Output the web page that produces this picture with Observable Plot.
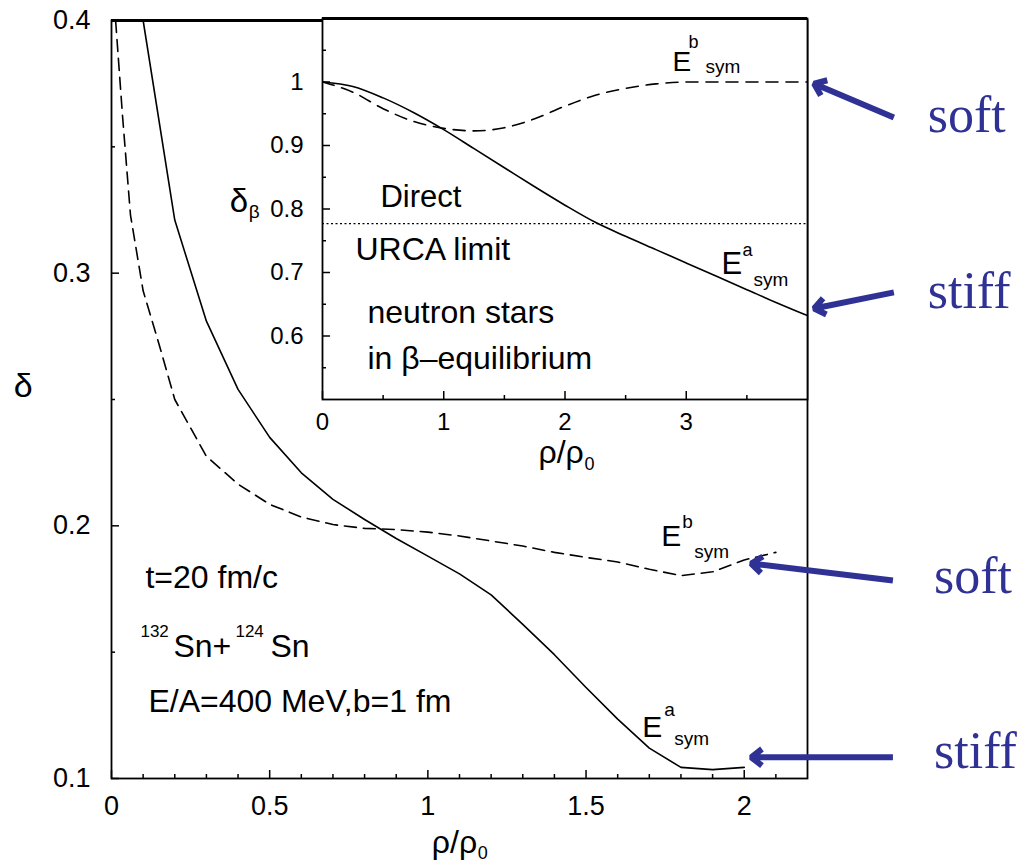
<!DOCTYPE html>
<html><head><meta charset="utf-8">
<script src="https://cdn.jsdelivr.net/npm/d3@7"></script>
<script src="https://cdn.jsdelivr.net/npm/@observablehq/plot@0.6"></script>
<style>
body{margin:0;background:#fff;}
#wrap{position:relative;width:1028px;height:868px;overflow:hidden;}
#main{position:absolute;left:0;top:0;width:1028px;}
#inset{position:absolute;left:200px;top:0;width:620px;}
#wrap svg{background:transparent !important;max-width:none !important;}
</style></head><body>
<div id="wrap"><div id="main"></div><div id="inset"></div></div>
<script>
// ---------- main panel data: delta vs rho/rho0 ----------
const rhoA   = [0.1, 0.2, 0.3, 0.4, 0.5, 0.6, 0.7, 0.8, 0.9, 1.0, 1.1, 1.2, 1.3, 1.4, 1.5, 1.6, 1.7, 1.8, 1.9, 2.0];
const deltaA = [0.400, 0.321, 0.281, 0.254, 0.235, 0.221, 0.2105, 0.2025, 0.195, 0.188, 0.181, 0.1727, 0.161, 0.149, 0.136, 0.1235, 0.112, 0.1044, 0.1035, 0.1044];
const rhoB   = [0.013, 0.035, 0.06, 0.1, 0.15, 0.2, 0.3, 0.4, 0.5, 0.6, 0.7, 0.8, 0.9, 1.0, 1.1, 1.2, 1.3, 1.4, 1.5, 1.6, 1.7, 1.8, 1.9, 2.0, 2.1];
const deltaB = [0.400, 0.362, 0.323, 0.293, 0.272, 0.250, 0.2275, 0.2165, 0.2085, 0.2035, 0.2005, 0.199, 0.1985, 0.1975, 0.196, 0.194, 0.192, 0.1895, 0.1875, 0.1857, 0.1828, 0.1803, 0.1818, 0.1865, 0.1895];

// ---------- inset data: delta_beta vs rho/rho0 ----------
const insetRhoA   = [0, 0.25, 0.5, 0.75, 1.0, 1.25, 1.5, 1.75, 2.0, 2.25, 2.5, 2.75, 3.0, 3.25, 3.5, 3.75, 4.0];
const insetDeltaA = [1.0, 0.993, 0.975, 0.952, 0.925, 0.895, 0.865, 0.835, 0.806, 0.779, 0.757, 0.736, 0.715, 0.694, 0.673, 0.652, 0.632];
const insetRhoB   = [0, 0.25, 0.5, 0.75, 1.0, 1.25, 1.5, 1.75, 2.0, 2.25, 2.5, 2.75, 3.0, 3.5, 4.0];
const insetDeltaB = [1.0, 0.984, 0.958, 0.938, 0.927, 0.923, 0.928, 0.942, 0.962, 0.979, 0.990, 0.997, 1.0, 1.0, 1.0];
const urcaLimit = [0.777];

// ---------- ticks ----------
const mainXTicks = [0, 0.5, 1, 1.5, 2];
const mainXLabels = ["0", "0.5", "1", "1.5", "2"];
const mainXMinor = [0.1, 0.2, 0.3, 0.4, 0.6, 0.7, 0.8, 0.9, 1.1, 1.2, 1.3, 1.4, 1.6, 1.7, 1.8, 1.9, 2.1];
const mainYTicks = [0.1, 0.2, 0.3, 0.4];
const mainYLabels = ["0.1", "0.2", "0.3", "0.4"];
const mainYMinor = [0.15, 0.25, 0.35];
const insetXTicks = [0, 1, 2, 3];
const insetXLabels = ["0", "1", "2", "3"];
const insetXMinor = [0.5, 1.5, 2.5, 3.5];
const insetYTicks = [0.6, 0.7, 0.8, 0.9, 1.0];
const insetYLabels = ["0.6", "0.7", "0.8", "0.9", "1"];
const insetYMinor = [0.55, 0.65, 0.75, 0.85, 0.95, 1.05];

// ---------- annotation arrows (main-panel data units) ----------
const arrowLabels = ["soft", "stiff", "soft", "stiff"];
const arrowX1 = [2.473, 2.473, 2.470, 2.470];
const arrowY1 = [0.3616, 0.2924, 0.1784, 0.1084];
const arrowX2 = [2.221, 2.221, 2.022, 2.022];
const arrowY2 = [0.375, 0.286, 0.1851, 0.1084];
const arrowLabelX = [2.58, 2.58, 2.60, 2.60];
const arrowLabelY = [0.3557, 0.2864, 0.1736, 0.1040];

const SANS = "'Liberation Sans', Arial, Helvetica, sans-serif";
const SERIF = "'Liberation Serif', 'Times New Roman', serif";
const BLUE = "#2f3294";

function rich(x, y, parts, extra = {}) {
  return parts.map(p => Plot.text([p.t], {
    x, y, text: d => d, dx: p.dx || 0, dy: p.dy || 0,
    fontSize: p.size, textAnchor: "start", lineAnchor: "bottom",
    fill: "black", fontFamily: SANS, ...extra
  }));
}

// ---------- main panel ----------
const mW = 1028, mH = 868, mL = 111, mR = 221, mT = 20, mB = 90;
const mFrameW = mW - mL - mR, mFrameH = mH - mT - mB;
const idx = (arr, d) => arr.indexOf(d);

const main = Plot.plot({
  width: mW, height: mH,
  marginLeft: mL, marginRight: mR, marginTop: mT, marginBottom: mB,
  style: {fontFamily: SANS, fontSize: "27px", color: "black", background: "transparent", overflow: "visible"},
  x: {domain: [0, 2.2]},
  y: {domain: [0.1, 0.4]},
  marks: [
    Plot.line(rhoA, {x: rhoA, y: deltaA, stroke: "black", strokeWidth: 1.6, clip: true}),
    Plot.line(rhoB, {x: rhoB, y: deltaB, stroke: "black", strokeWidth: 1.6, strokeDasharray: "12,7", clip: true}),
    Plot.tickX(mainXTicks, {x: d => d, insetTop: mFrameH - 8, strokeWidth: 1.5}),
    Plot.tickX(mainXMinor, {x: d => d, insetTop: mFrameH - 4, strokeWidth: 1.5}),
    Plot.tickY(mainYTicks, {y: d => d, insetRight: mFrameW - 8, strokeWidth: 1.5}),
    Plot.tickY(mainYMinor, {y: d => d, insetRight: mFrameW - 4, strokeWidth: 1.5}),
    Plot.frame({stroke: "black", strokeWidth: 1.8}),
    Plot.ruleY([0.4], {stroke: "black", strokeWidth: 3}),
    Plot.axisX(mainXTicks, {tickSize: 0, tickPadding: 17, label: null, fontSize: 27, tickFormat: d => mainXLabels[idx(mainXTicks, d)]}),
    Plot.axisY(mainYTicks, {tickSize: 0, tickPadding: 21, label: null, fontSize: 27, tickFormat: d => mainYLabels[idx(mainYTicks, d)]}),
    // axis titles
    ...rich(1.0126, 0.0704, [{t: "ρ/ρ", size: 32}, {t: "0", size: 18, dx: 46, dy: 6}]),
    ...rich(-0.309, 0.2508, [{t: "δ", size: 34}]),
    // annotations
    ...rich(0.1073, 0.1752, [{t: "t=20 fm/c", size: 32}]),
    ...rich(0.0915, 0.1479, [{t: "132", size: 17, dy: -20}, {t: "Sn+", size: 32, dx: 33}, {t: "124", size: 17, dx: 95, dy: -20}, {t: "Sn", size: 32, dx: 130}]),
    ...rich(0.1167, 0.1265, [{t: "E/A=400 MeV,b=1 fm", size: 32}]),
    ...rich(1.738, 0.1922, [{t: "E", size: 30}, {t: "b", size: 19, dx: 21, dy: -18}, {t: "sym", size: 19, dx: 33, dy: 12}]),
    ...rich(1.678, 0.1163, [{t: "E", size: 30}, {t: "a", size: 19, dx: 22, dy: -21}, {t: "sym", size: 19, dx: 32, dy: 8}]),
    // blue arrows and labels
    Plot.arrow(arrowLabels, {x1: arrowX1, y1: arrowY1, x2: arrowX2, y2: arrowY2, stroke: BLUE, strokeWidth: 6, headLength: 3.4, headAngle: 75, strokeLinecap: "butt", strokeLinejoin: "miter"}),
    Plot.text(arrowLabels, {x: arrowLabelX, y: arrowLabelY, text: d => d, fill: BLUE, fontFamily: SERIF, fontSize: 52, textAnchor: "start", lineAnchor: "bottom"})
  ]
});
document.getElementById("main").appendChild(main);

// ---------- inset panel ----------
const iW = 620, iH = 470, iL = 122, iR = 13, iT = 18, iB = 71;
const iFrameW = iW - iL - iR, iFrameH = iH - iT - iB;
const inset = Plot.plot({
  width: iW, height: iH,
  marginLeft: iL, marginRight: iR, marginTop: iT, marginBottom: iB,
  style: {fontFamily: SANS, fontSize: "24px", color: "black", background: "transparent", overflow: "visible"},
  x: {domain: [0, 4]},
  y: {domain: [0.5, 1.1]},
  marks: [
    Plot.frame({fill: "white", stroke: "none"}),
    Plot.ruleY(urcaLimit, {stroke: "black", strokeWidth: 1.3, strokeDasharray: "2,2.5"}),
    Plot.line(insetRhoA, {x: insetRhoA, y: insetDeltaA, stroke: "black", strokeWidth: 1.6, curve: "monotone-x", clip: true}),
    Plot.line(insetRhoB, {x: insetRhoB, y: insetDeltaB, stroke: "black", strokeWidth: 1.6, strokeDasharray: "12,8", curve: "monotone-x", clip: true}),
    Plot.tickX(insetXTicks, {x: d => d, insetTop: iFrameH - 8, strokeWidth: 1.5}),
    Plot.tickX(insetXMinor, {x: d => d, insetTop: iFrameH - 4, strokeWidth: 1.5}),
    Plot.tickY(insetYTicks, {y: d => d, insetRight: iFrameW - 8, strokeWidth: 1.5}),
    Plot.tickY(insetYMinor, {y: d => d, insetRight: iFrameW - 4, strokeWidth: 1.5}),
    Plot.frame({stroke: "black", strokeWidth: 1.8}),
    Plot.ruleY([1.1], {stroke: "black", strokeWidth: 3}),
    Plot.axisX(insetXTicks, {tickSize: 0, tickPadding: 13, label: null, fontSize: 24, tickFormat: d => insetXLabels[idx(insetXTicks, d)]}),
    Plot.axisY(insetYTicks, {tickSize: 0, tickPadding: 19, label: null, fontSize: 24, tickFormat: d => insetYLabels[idx(insetYTicks, d)]}),
    ...rich(1.781, 0.3993, [{t: "ρ/ρ", size: 32}, {t: "0", size: 18, dx: 46, dy: 7}]),
    ...rich(-0.765, 0.7945, [{t: "δ", size: 33}, {t: "β", size: 19, dx: 19, dy: 6}]),
    ...rich(0.478, 0.8039, [{t: "Direct", size: 31}]),
    ...rich(0.272, 0.7189, [{t: "URCA limit", size: 32}]),
    ...rich(0.371, 0.6197, [{t: "neutron stars", size: 32}]),
    ...rich(0.371, 0.5488, [{t: "in β–equilibrium", size: 32}]),
    ...rich(2.887, 1.0181, [{t: "E", size: 28}, {t: "b", size: 18, dx: 16, dy: -23}, {t: "sym", size: 19, dx: 33, dy: 2}]),
    ...rich(3.291, 0.6984, [{t: "E", size: 31}, {t: "a", size: 18, dx: 21, dy: -18}, {t: "sym", size: 19, dx: 32, dy: 12}])
  ]
});
document.getElementById("inset").appendChild(inset);
</script>
</body></html>
